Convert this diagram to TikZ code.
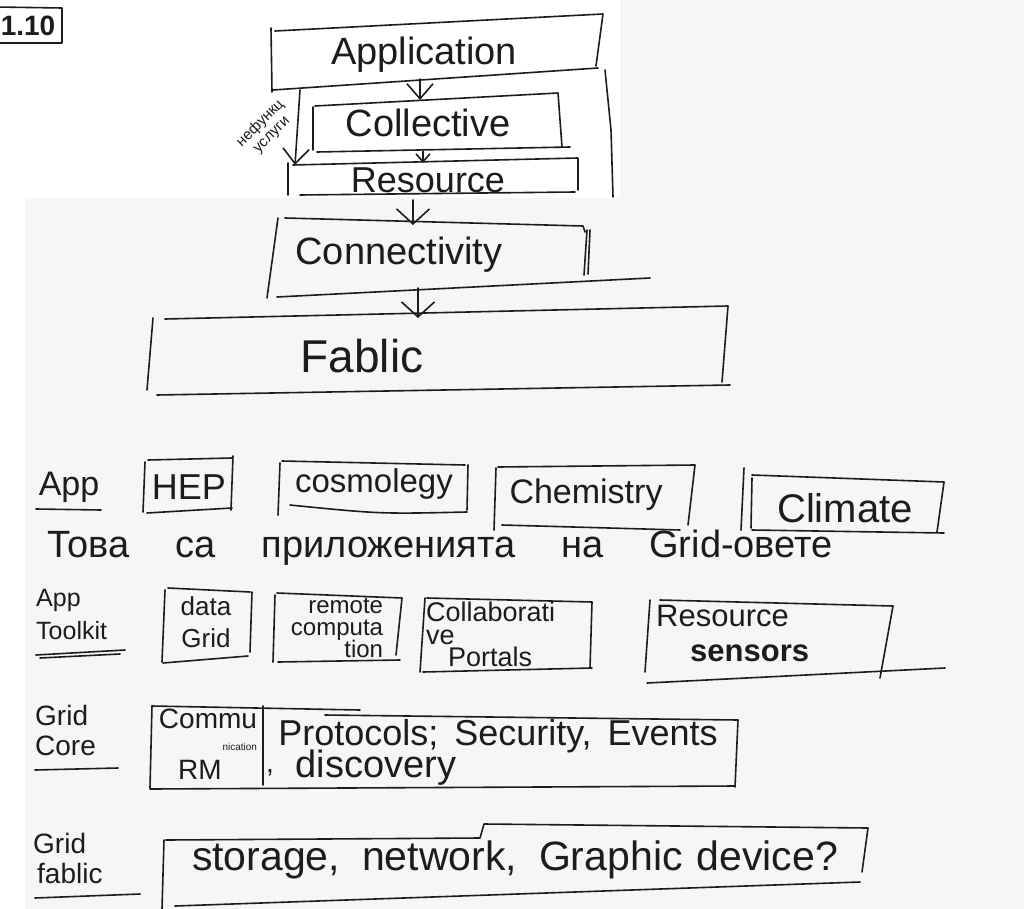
\documentclass[tikz,border=0pt]{standalone}
\usepackage{fontspec}
\setmainfont{Liberation Sans}
\usetikzlibrary{arrows.meta}
\definecolor{ink}{HTML}{1C1C1C}
\definecolor{paper}{HTML}{F6F6F9}
\begin{document}
\begin{tikzpicture}[x=1pt,y=-1pt,
  pen/.style={draw=ink,line width=1.6pt,line cap=round,line join=round},
  hw/.style={text=ink,inner sep=0pt,font=\fontsize{#1}{#1}\selectfont},
  bigtip/.style={pen,-{Straight Barb[length=15pt,width=26pt,line width=1.6pt]}},
  smalltip/.style={pen,-{Straight Barb[length=8pt,width=14pt,line width=1.6pt]}},
  widetip/.style={pen,-{Straight Barb[length=15pt,width=33pt,line width=1.6pt]}}]
\useasboundingbox (0,0) rectangle (1024,909);
\fill[white] (0,0) rectangle (1024,909);
\fill[paper] (25,198) rectangle (1024,909);
\fill[paper] (620,0) rectangle (1024,198);

% section number
\draw[pen] (-4,7) -- (62,8) -- (62,43) -- (-4,43);
\node[hw=28,font=\bfseries\fontsize{28}{28}\selectfont] (num) at (28,26) {1.10};

% ---------- layer stack ----------
\node[hw=38] (app) at (424,55) {Application};
\draw[pen] (272,92) -- (271,28);
\draw[pen] (275,31) -- (603,14) -- (596,66);
\draw[pen] (273,90) -- (598,68);

\node[hw=38] (coll) at (428,123) {Collective};
\draw[pen] (313,107) -- (313,150);
\draw[pen] (315,106) -- (558,93) -- (562,147);
\draw[pen] (317,152) -- (570,147);

\node[hw=36] (res) at (428,180) {Resource};
\draw[pen] (288,163) -- (288,195);
\draw[pen] (293,165) -- (578,158) -- (578,190);
\draw[pen] (300,195) -- (575,192);
\draw[pen] (605,70) -- (611,130) -- (613,197);

\node[hw=38] (conn) at (399,255) {Connectivity};
\draw[pen] (278,218) -- (267,298);
\draw[pen] (285,218) -- (583,226) -- (585,232);
\draw[pen] (587,230) -- (584,275);
\draw[pen] (590,230) -- (588,274);
\draw[pen] (277,297) -- (650,278);

\node[hw=46] (fab) at (362,356) {Fablic};
\draw[pen] (153,318) -- (147,390);
\draw[pen] (165,319) -- (728,306) -- (722,382);
\draw[pen] (157,395) -- (730,385);

% arrows between the layers
\coordinate (appB) at (420,79);
\coordinate (collT) at (420,100);
\draw[bigtip] (appB) -- (collT);
\coordinate (collB) at (423,151);
\coordinate (resT) at (423,163);
\draw[smalltip] (collB) -- (resT);
\coordinate (resB) at (413,200);
\coordinate (connT) at (413,225);
\draw[widetip] (resB) -- (connT);
\coordinate (connB) at (418,288);
\coordinate (fabT) at (418,318);
\draw[widetip] (connB) -- (fabT);

% side arrow: services
\coordinate (sv0) at (300,90);
\coordinate (sv1) at (295,165);
\draw[bigtip] (sv0) -- (sv1);
\node[hw=15,rotate=45,align=center] (svc) at (266,129) {нефункц\\[1pt]услуги};

% ---------- App ----------
\node[hw=34] (lApp) at (69,487) {App};
\draw[pen] (36,509) -- (101,510);

\node[hw=36] (hep) at (189,487) {HEP};
\draw[pen] (145,462) -- (143,512);
\draw[pen] (148,460) -- (232,458);
\draw[pen] (233,456) -- (231,510);
\draw[pen] (147,513) -- (232,508);

\node[hw=33] (cos) at (374,484) {cosmolegy};
\draw[pen] (280,463) -- (278,515);
\draw[pen] (282,461) -- (465,465);
\draw[pen] (468,465) -- (467,510);
\draw[pen] (290,505) .. controls (380,514) .. (467,512);

\node[hw=34] (chem) at (586,495) {Chemistry};
\draw[pen] (496,468) -- (494,530);
\draw[pen] (498,467) -- (695,465) -- (688,525);
\draw[pen] (502,525) -- (680,530);

\node[hw=40] (clim) at (845,508) {Climate};
\draw[pen] (744,468) -- (741,530);
\draw[pen] (752,478) -- (751,528);
\draw[pen] (752,475) -- (944,482) -- (937,532);
\draw[pen] (752,530) -- (944,533);

\node[hw=38,anchor=west] (note) at (47,548)
  {Това\hspace{46pt}са\hspace{46pt}приложенията\hspace{46pt}на\hspace{46pt}Grid-овете};

% ---------- App Toolkit ----------
\node[hw=25,align=left,anchor=west] (ltk) at (36,615) {App\\[8pt]Toolkit};
\draw[pen] (36,655) -- (125,650);
\draw[pen] (40,658) -- (120,654);

\node[hw=26,align=center] (dg) at (206,622) {data\\[6pt]Grid};
\draw[pen] (165,590) -- (162,662);
\draw[pen] (168,588) -- (250,592);
\draw[pen] (252,592) -- (250,652);
\draw[pen] (163,663) -- (248,656);

\node[hw=24,align=right] (rc) at (337,628) {remote\\[-2pt]computa\\[-2pt]tion};
\draw[pen] (275,595) -- (273,662);
\draw[pen] (277,593) -- (402,598) -- (396,655);
\draw[pen] (278,662) -- (400,660);

\node[hw=27,align=left,anchor=west] (cp) at (426,634) {Collaborati\\[-4pt]ve\\[-5pt]\hspace*{22pt}Portals};
\draw[pen] (425,598) -- (420,672);
\draw[pen] (427,598) -- (592,602) -- (590,668);
\draw[pen] (423,672) -- (592,668);

\node[hw=31,align=left,anchor=west] (rs) at (656,633)
  {Resource\\[4pt]\hspace*{34pt}\textbf{sensors}};
\draw[pen] (650,600) -- (645,672);
\draw[pen] (660,600) -- (893,606) -- (880,678);
\draw[pen] (647,683) -- (945,668);

% ---------- Grid Core ----------
\node[hw=28,align=left,anchor=west] (lgc) at (35,730) {Grid\\[2pt]Core};
\draw[pen] (35,770) -- (118,768);

\node[hw=28,align=right] (cm) at (208,730)
  {Commu\\[-6pt]{\fontsize{10}{10}\selectfont nication}};
\node[hw=28] (rm) at (200,770) {RM};
\node[hw=28] (comma) at (270,773) {,};
\draw[pen] (152,706) -- (150,788);
\draw[pen] (152,706) -- (360,710);
\draw[pen] (263,706) -- (263,785);
\draw[pen] (325,715) -- (738,720) -- (735,787);
\draw[pen] (150,789) -- (735,786);

\node[hw=36] (prot) at (498,736) {Protocols;\hspace{16pt}Security,\hspace{16pt}Events};
\node[hw=38] (disc) at (376,768) {discovery};

% ---------- Grid Fablic ----------
\node[hw=28,align=left,anchor=west] (lgf) at (33,858) {Grid\\[2pt]\hspace*{4pt}fablic};
\draw[pen] (35,898) -- (140,894);

\node[hw=41] (fabr) at (515,860) {storage,\hspace{22pt}network,\hspace{22pt}Graphic\hspace{14pt}device?};
\draw[pen] (164,840) -- (162,909);
\draw[pen] (166,840) -- (480,838) -- (484,824) -- (868,828) -- (862,872);
\draw[pen] (175,906) -- (860,882);
\end{tikzpicture}
\end{document}
